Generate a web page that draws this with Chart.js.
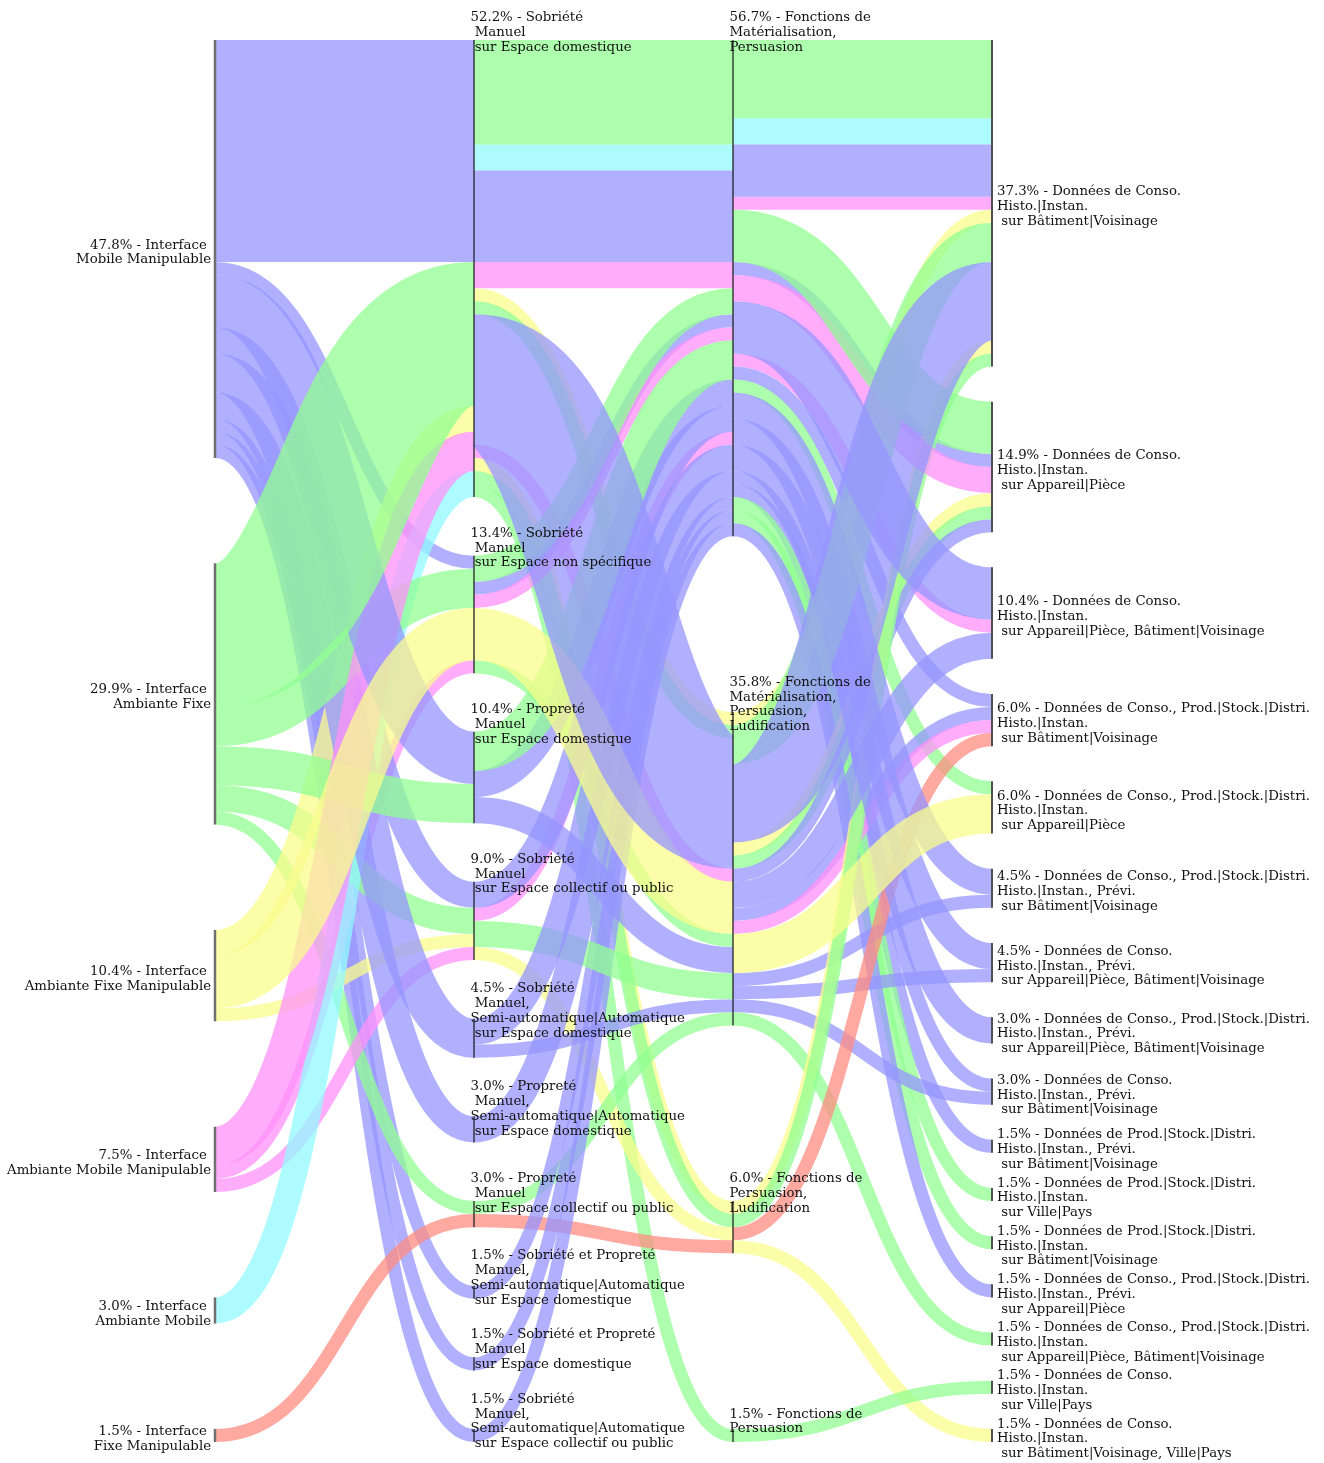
<!DOCTYPE html>
<html>
<head>
<meta charset="utf-8">
<script src="https://cdn.jsdelivr.net/npm/chart.js@4.4.0/dist/chart.umd.min.js"></script>
<style>
  html, body { margin: 0; padding: 0; background: #ffffff; }
  canvas { display: block; }
</style>
</head>
<body>
<canvas id="grafico" width="1324" height="1463"></canvas>
<script>
// Catégories de chaque axe (de haut en bas), sans le pourcentage
const interfaces = [
  ['Interface ', 'Mobile Manipulable'],
  ['Interface ', 'Ambiante Fixe'],
  ['Interface ', 'Ambiante Fixe Manipulable'],
  ['Interface ', 'Ambiante Mobile Manipulable'],
  ['Interface ', 'Ambiante Mobile'],
  ['Interface ', 'Fixe Manipulable']
];

const objectifs = [
  ['Sobriété', ' Manuel', ' sur Espace domestique'],
  ['Sobriété', ' Manuel', ' sur Espace non spécifique'],
  ['Propreté', ' Manuel', ' sur Espace domestique'],
  ['Sobriété', ' Manuel', ' sur Espace collectif ou public'],
  ['Sobriété', ' Manuel,', 'Semi-automatique|Automatique', ' sur Espace domestique'],
  ['Propreté', ' Manuel,', 'Semi-automatique|Automatique', ' sur Espace domestique'],
  ['Propreté', ' Manuel', ' sur Espace collectif ou public'],
  ['Sobriété et Propreté', ' Manuel,', 'Semi-automatique|Automatique', ' sur Espace domestique'],
  ['Sobriété et Propreté', ' Manuel', ' sur Espace domestique'],
  ['Sobriété', ' Manuel,', 'Semi-automatique|Automatique', ' sur Espace collectif ou public']
];

const fonctions = [
  ['Fonctions de', 'Matérialisation,', 'Persuasion'],
  ['Fonctions de', 'Matérialisation,', 'Persuasion,', 'Ludification'],
  ['Fonctions de', 'Persuasion,', 'Ludification'],
  ['Fonctions de', 'Persuasion']
];

const donnees = [
  ['Données de Conso.', 'Histo.|Instan.', ' sur Bâtiment|Voisinage'],
  ['Données de Conso.', 'Histo.|Instan.', ' sur Appareil|Pièce'],
  ['Données de Conso.', 'Histo.|Instan.', ' sur Appareil|Pièce, Bâtiment|Voisinage'],
  ['Données de Conso., Prod.|Stock.|Distri.', 'Histo.|Instan.', ' sur Bâtiment|Voisinage'],
  ['Données de Conso., Prod.|Stock.|Distri.', 'Histo.|Instan.', ' sur Appareil|Pièce'],
  ['Données de Conso., Prod.|Stock.|Distri.', 'Histo.|Instan., Prévi.', ' sur Bâtiment|Voisinage'],
  ['Données de Conso.', 'Histo.|Instan., Prévi.', ' sur Appareil|Pièce, Bâtiment|Voisinage'],
  ['Données de Conso., Prod.|Stock.|Distri.', 'Histo.|Instan., Prévi.', ' sur Appareil|Pièce, Bâtiment|Voisinage'],
  ['Données de Conso.', 'Histo.|Instan., Prévi.', ' sur Bâtiment|Voisinage'],
  ['Données de Prod.|Stock.|Distri.', 'Histo.|Instan., Prévi.', ' sur Bâtiment|Voisinage'],
  ['Données de Prod.|Stock.|Distri.', 'Histo.|Instan.', ' sur Ville|Pays'],
  ['Données de Prod.|Stock.|Distri.', 'Histo.|Instan.', ' sur Bâtiment|Voisinage'],
  ['Données de Conso., Prod.|Stock.|Distri.', 'Histo.|Instan., Prévi.', ' sur Appareil|Pièce'],
  ['Données de Conso., Prod.|Stock.|Distri.', 'Histo.|Instan.', ' sur Appareil|Pièce, Bâtiment|Voisinage'],
  ['Données de Conso.', 'Histo.|Instan.', ' sur Ville|Pays'],
  ['Données de Conso.', 'Histo.|Instan.', ' sur Bâtiment|Voisinage, Ville|Pays']
];

// Flux entre axes : [interface (couleur), catégorie source, catégorie cible, nombre]
const flux12 = [
  [0, 0, 0, 17], [0, 0, 1, 1], [0, 0, 2, 4], [0, 0, 3, 2], [0, 0, 4, 3], [0, 0, 5, 2], [0, 0, 7, 1], [0, 0, 8, 1], [0, 0, 9, 1],
  [1, 1, 0, 11], [1, 1, 1, 3], [1, 1, 2, 3], [1, 1, 3, 2], [1, 1, 6, 1],
  [2, 2, 0, 2], [2, 2, 1, 4], [2, 2, 3, 1],
  [3, 3, 0, 3], [3, 3, 1, 1], [3, 3, 3, 1],
  [4, 4, 0, 2],
  [5, 5, 6, 1]
];

const flux23 = [
  [1, 0, 0, 8], [4, 0, 0, 2], [0, 0, 0, 7], [3, 0, 0, 2],
  [2, 0, 1, 1], [1, 0, 1, 1], [0, 0, 1, 10], [3, 0, 1, 1],
  [2, 0, 2, 1], [1, 0, 2, 1],
  [1, 0, 3, 1],
  [1, 1, 0, 2], [0, 1, 0, 1], [3, 1, 0, 1],
  [2, 1, 1, 4], [1, 1, 1, 1],
  [1, 2, 0, 3], [0, 2, 0, 2], [0, 2, 1, 2],
  [0, 3, 0, 2], [3, 3, 0, 1], [1, 3, 1, 2], [2, 3, 2, 1],
  [0, 4, 0, 2], [0, 4, 1, 1],
  [0, 5, 0, 2],
  [1, 6, 1, 1], [5, 6, 2, 1],
  [0, 7, 0, 1], [0, 8, 0, 1], [0, 9, 0, 1]
];

const flux34 = [
  [1, 0, 0, 6], [4, 0, 0, 2], [0, 0, 0, 4], [3, 0, 0, 1],
  [1, 0, 1, 4], [0, 0, 1, 1], [3, 0, 1, 2],
  [0, 0, 2, 4], [3, 0, 2, 1],
  [0, 0, 3, 1],
  [1, 0, 4, 1],
  [0, 0, 5, 2], [0, 0, 6, 2], [0, 0, 7, 2], [0, 0, 8, 1], [0, 0, 9, 1],
  [1, 0, 10, 1], [1, 0, 11, 1], [0, 0, 12, 1],
  [2, 1, 0, 1], [1, 1, 0, 3], [0, 1, 0, 6],
  [2, 1, 1, 1], [1, 1, 1, 1], [0, 1, 1, 1],
  [0, 1, 2, 2],
  [0, 1, 3, 1], [3, 1, 3, 1],
  [2, 1, 4, 3],
  [0, 1, 5, 1], [0, 1, 6, 1], [0, 1, 8, 1], [1, 1, 13, 1],
  [2, 2, 0, 1], [1, 2, 0, 1], [5, 2, 3, 1], [2, 2, 15, 1],
  [1, 3, 14, 1]
];

// Couleur des rubans selon l'interface
const couleurs = [
  'rgba(150, 150, 255, 0.75)',
  'rgba(145, 255, 145, 0.75)',
  'rgba(250, 252, 140, 0.75)',
  'rgba(255, 145, 250, 0.75)',
  'rgba(145, 250, 255, 0.75)',
  'rgba(255, 140, 130, 0.75)'
];
// Ordre d'empilement des couleurs dans une même paire de catégories
const rangCouleur = [3, 1, 0, 4, 2, 5];

const axes = [interfaces, objectifs, fonctions, donnees];
const segments = [flux12, flux23, flux34];
const hauteurTotale = 107.35; // 67 individus + écarts entre catégories

// Taille de chaque catégorie, lue dans les flux
function taillesAxe(a) {
  const tailles = new Array(axes[a].length).fill(0);
  if (a < segments.length) {
    segments[a].forEach(f => { tailles[f[1]] += f[3]; });
  } else {
    segments[a - 1].forEach(f => { tailles[f[2]] += f[3]; });
  }
  return tailles;
}

function hautsAxe(tailles) {
  const total = tailles.reduce((s, t) => s + t, 0);
  const ecart = (hauteurTotale - total) / (tailles.length - 1);
  const hauts = [];
  let y = 0;
  tailles.forEach(t => { hauts.push(y); y += t + ecart; });
  return hauts;
}

const tailles = axes.map((_, a) => taillesAxe(a));
const hauts = tailles.map(hautsAxe);
const effectifTotal = tailles[0].reduce((s, t) => s + t, 0);

// Un ruban = une courbe épaisse (trait de la largeur du flux)
function ruban(ctx, x0, x1, y0, y1, epaisseur) {
  const xm = (x0 + x1) / 2;
  ctx.lineWidth = epaisseur;
  ctx.beginPath();
  ctx.moveTo(x0, y0);
  ctx.bezierCurveTo(xm, y0, xm, y1, x1, y1);
  ctx.stroke();
}

const pluginRubans = {
  id: 'rubans',
  beforeDatasetsDraw(chart) {
    const ctx = chart.ctx;
    const sx = chart.scales.x;
    const sy = chart.scales.y;
    ctx.save();
    ctx.lineCap = 'butt';
    segments.forEach((flux, s) => {
      // position de départ (côté source) et d'arrivée (côté cible) de chaque flux
      const depart = new Array(flux.length);
      const arrivee = new Array(flux.length);
      const idx = flux.map((_, i) => i);
      const parSource = idx.slice().sort((a, b) =>
        flux[a][1] - flux[b][1] || flux[a][2] - flux[b][2] || rangCouleur[flux[a][0]] - rangCouleur[flux[b][0]]);
      const parCible = idx.slice().sort((a, b) =>
        flux[a][2] - flux[b][2] || flux[a][1] - flux[b][1] || rangCouleur[flux[a][0]] - rangCouleur[flux[b][0]]);
      const curSrc = hauts[s].slice();
      const curTgt = hauts[s + 1].slice();
      parSource.forEach(i => { depart[i] = curSrc[flux[i][1]]; curSrc[flux[i][1]] += flux[i][3]; });
      parCible.forEach(i => { arrivee[i] = curTgt[flux[i][2]]; curTgt[flux[i][2]] += flux[i][3]; });

      const x0 = sx.getPixelForValue(s);
      const x1 = sx.getPixelForValue(s + 1);
      // les petits flux d'abord, les gros par-dessus
      const ordre = idx.slice().sort((a, b) => flux[a][3] - flux[b][3] || a - b);
      ordre.forEach(i => {
        const f = flux[i];
        const ya = sy.getPixelForValue(depart[i] + f[3] / 2);
        const yb = sy.getPixelForValue(arrivee[i] + f[3] / 2);
        const ep = Math.abs(sy.getPixelForValue(f[3]) - sy.getPixelForValue(0));
        ctx.strokeStyle = couleurs[f[0]];
        ruban(ctx, x0, x1, ya, yb, ep);
      });
    });
    ctx.restore();
  },
  afterDraw(chart) {
    const ctx = chart.ctx;
    const sx = chart.scales.x;
    const sy = chart.scales.y;
    ctx.save();
    // traits des catégories
    axes.forEach((cats, a) => {
      const x = sx.getPixelForValue(a);
      ctx.strokeStyle = a === 0 ? '#707070' : (a === 3 ? '#505050' : '#222222');
      ctx.lineWidth = a === 0 ? 2.5 : (a === 3 ? 2 : 1.3);
      cats.forEach((_, c) => {
        ctx.beginPath();
        ctx.moveTo(x, sy.getPixelForValue(hauts[a][c]));
        ctx.lineTo(x, sy.getPixelForValue(hauts[a][c] + tailles[a][c]));
        ctx.stroke();
      });
    });
    // étiquettes
    ctx.fillStyle = '#111111';
    ctx.font = '13.3px "DejaVu Serif"';
    ctx.textBaseline = 'middle';
    const interligne = 14.8;
    axes.forEach((cats, a) => {
      const x = sx.getPixelForValue(a);
      cats.forEach((lignes, c) => {
        const pct = (100 * tailles[a][c] / effectifTotal).toFixed(1) + '% - ';
        const texte = [pct + lignes[0]].concat(lignes.slice(1));
        let centre, xt;
        if (a === 0) {
          ctx.textAlign = 'right';
          xt = x - 4;
          centre = sy.getPixelForValue(hauts[a][c] + tailles[a][c] / 2) + 3.5;
        } else if (a === 3) {
          ctx.textAlign = 'left';
          xt = x + 5;
          centre = sy.getPixelForValue(hauts[a][c] + tailles[a][c] / 2) + 3.5;
        } else {
          ctx.textAlign = 'left';
          xt = x - 3.5;
          centre = sy.getPixelForValue(hauts[a][c]) - 7.5;
        }
        const y0 = centre - (texte.length - 1) * interligne / 2;
        texte.forEach((l, k) => ctx.fillText(l, xt, y0 + k * interligne));
      });
    });
    ctx.restore();
  }
};

new Chart(document.getElementById('grafico'), {
  type: 'scatter',
  data: { datasets: [{ data: [], pointRadius: 0 }] },
  options: {
    responsive: false,
    animation: false,
    devicePixelRatio: 1,
    layout: { padding: { left: 215, right: 332, top: 40, bottom: 21 } },
    scales: {
      x: { type: 'linear', min: 0, max: 3, display: false },
      y: { type: 'linear', min: 0, max: hauteurTotale, reverse: true, display: false }
    },
    plugins: { legend: { display: false }, tooltip: { enabled: false } }
  },
  plugins: [pluginRubans]
});
</script>
</body>
</html>
